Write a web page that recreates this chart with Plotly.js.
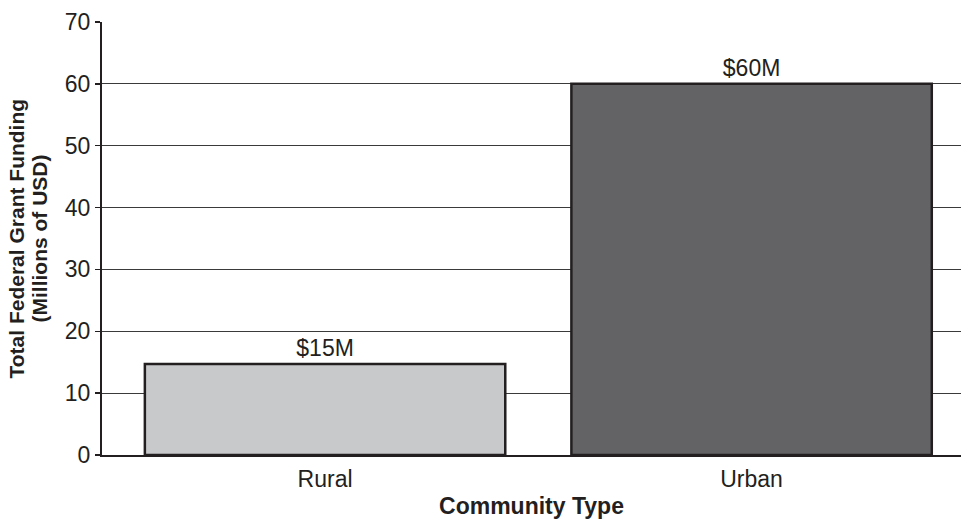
<!DOCTYPE html>
<html>
<head>
<meta charset="utf-8">
<script src="https://cdn.plot.ly/plotly-3.0.1.min.js"></script>
<style>html,body{margin:0;padding:0;background:#fff;}#chart{width:961px;height:520px;}</style>
</head>
<body>
<div id="chart"></div>
<script>
const categories = ["Rural", "Urban"];
const funding = [14.7, 60];
const labels = ["$15M", "$60M"];
const barColors = ["#c8c9cb", "#636365"];
const yTicks = [0, 10, 20, 30, 40, 50, 60, 70];
const yTitleLines = ["Total Federal Grant Funding", "(Millions of USD)"];
const xTitle = "Community Type";

const FONT = 'Liberation Sans, Arial, sans-serif';
const INK = '#231f20';

const trace = {
  type: 'bar',
  x: categories,
  y: funding,
  text: labels,
  textposition: 'outside',
  cliponaxis: false,
  textfont: {family: FONT, size: 23, color: INK},
  marker: {color: barColors, line: {color: INK, width: 2.5}},
  width: 0.845,
  hoverinfo: 'none'
};

const layout = {
  width: 961, height: 520,
  margin: {l: 102, r: 0, t: 22, b: 65},
  paper_bgcolor: '#ffffff', plot_bgcolor: '#ffffff',
  font: {family: FONT, size: 23, color: INK},
  showlegend: false,
  xaxis: {
    type: 'category',
    range: [-0.523, 1.491],
    showline: true, linecolor: INK, linewidth: 2,
    showgrid: false, ticks: '', zeroline: false,
    ticklabelstandoff: 2,
    tickfont: {size: 23, color: INK},
    title: {text: '<b>' + xTitle + '</b>', font: {size: 23, color: INK}, standoff: 7}
  },
  yaxis: {
    range: [0, 70],
    tickvals: yTicks,
    showline: true, linecolor: INK, linewidth: 2,
    showgrid: true, gridcolor: '#3a3a3a', gridwidth: 1,
    zeroline: false,
    ticks: 'outside', ticklen: 5, tickwidth: 1.5, tickcolor: INK,
    tickfont: {size: 23, color: INK}
  },
  annotations: [
    {text: '<b>' + yTitleLines[0] + '</b>', xref: 'paper', yref: 'paper', x: 0, y: 0.5,
     xanchor: 'center', yanchor: 'middle', xshift: -86, textangle: -90, showarrow: false,
     font: {size: 21, color: INK}},
    {text: '<b>' + yTitleLines[1] + '</b>', xref: 'paper', yref: 'paper', x: 0, y: 0.5,
     xanchor: 'center', yanchor: 'middle', xshift: -63, textangle: -90, showarrow: false,
     font: {size: 21, color: INK}}
  ]
};

Plotly.newPlot('chart', [trace], layout, {staticPlot: true, displayModeBar: false});
</script>
</body>
</html>
